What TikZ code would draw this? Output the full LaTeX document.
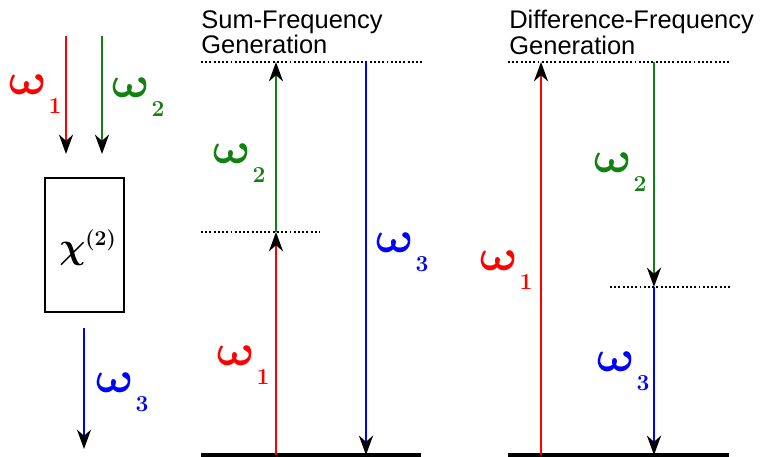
\documentclass[tikz,border=0pt]{standalone}
\usepackage{amsmath}
\usepackage[no-math]{fontspec}
\usepackage{tikz}
\usetikzlibrary{arrows.meta,positioning}
\newfontfamily\titlefont{Liberation Sans}
\DeclareMathSizes{25}{25}{14}{10}
\DeclareMathSizes{22}{22}{12}{9}
\definecolor{BeamRed}{HTML}{FF0000}
\definecolor{BeamGreen}{HTML}{138013}
\definecolor{BeamBlue}{HTML}{0000FF}
% omega with its index: name, position, colour, index
\newcommand{\freq}[4]{%
  \node[omega, #3] (#1) at #2 {$\omega$};
  \node[index, #3, below right=1.5pt and -1.5pt of #1] (#1i) {#4};}

\begin{document}
\begin{tikzpicture}[
  x=0.02cm, y=-0.02cm,
  beam/.style={line width=1.4pt, -{Stealth[length=11pt, width=8pt, inset=3.5pt, black]}},
  level/.style={line width=1.9pt},
  virtual/.style={line width=1.3pt, dash pattern=on 1.1pt off 1.3pt},
  omega/.style={font=\fontsize{25}{28}\selectfont\boldmath, inner sep=0pt, xscale=1.2, xslant=-0.22, transform shape},
  index/.style={font=\fontsize{13}{14}\selectfont\bfseries, inner sep=0pt},
  title/.style={font=\titlefont\fontsize{14.5}{13}\selectfont, align=left, anchor=north west, inner sep=0pt}
]
  \useasboundingbox (0,0) rectangle (762,457);

  % crystal with the three beams
  \node[draw, line width=1.3pt, minimum width=79*0.02cm, minimum height=134*0.02cm, inner sep=0pt] (crystal) at (84.5,245) {};
  \node[font=\fontsize{22}{26}\selectfont\boldmath, inner sep=0pt] (chi) at (88,248) {$\chi^{\mathbf{(2)}}$};
  \coordinate (in1) at (66,36);   \coordinate (in1end) at (66,154);
  \coordinate (in2) at (102,36);  \coordinate (in2end) at (102,154);
  \coordinate (out3) at (84,328); \coordinate (out3end) at (84,449);
  \draw[beam, BeamRed] (in1) -- (in1end);
  \draw[beam, BeamGreen] (in2) -- (in2end);
  \draw[beam, BeamBlue] (out3) -- (out3end);
  \freq{w1a}{(28,85)}{BeamRed}{1}
  \freq{w2a}{(131,88)}{BeamGreen}{2}
  \freq{w3a}{(115,383)}{BeamBlue}{3}

  % sum-frequency generation
  \node[title] (sfgtitle) at (201,10) {Sum-Frequency\\Generation};
  \coordinate (sfgtopL) at (201,62);  \coordinate (sfgtopR) at (424,62);
  \coordinate (sfgmidL) at (201,232); \coordinate (sfgmidR) at (320,232);
  \coordinate (sfggndL) at (201,455); \coordinate (sfggndR) at (421,455);
  \draw[virtual] (sfgtopL) -- (sfgtopR);
  \draw[virtual] (sfgmidL) -- (sfgmidR);
  \draw[level] (sfggndL) -- (sfggndR);
  \coordinate (sfgr0) at (276,455); \coordinate (sfgr1) at (276,232); \coordinate (sfgr2) at (276,62);
  \coordinate (sfgb0) at (366,62);  \coordinate (sfgb1) at (366,455);
  \draw[beam, BeamRed] (sfgr0) -- (sfgr1);
  \draw[beam, BeamGreen] (sfgr1) -- (sfgr2);
  \draw[beam, BeamBlue] (sfgb0) -- (sfgb1);
  \freq{w2b}{(232,154)}{BeamGreen}{2}
  \freq{w1b}{(236,356)}{BeamRed}{1}
  \freq{w3b}{(395,243)}{BeamBlue}{3}

  % difference-frequency generation
  \node[title] (dfgtitle) at (509,10) {Difference-Frequency\\Generation};
  \coordinate (dfgtopL) at (508,62);  \coordinate (dfgtopR) at (730,62);
  \coordinate (dfgmidL) at (610,287); \coordinate (dfgmidR) at (730,287);
  \coordinate (dfggndL) at (508,455); \coordinate (dfggndR) at (729,455);
  \draw[virtual] (dfgtopL) -- (dfgtopR);
  \draw[virtual] (dfgmidL) -- (dfgmidR);
  \draw[level] (dfggndL) -- (dfggndR);
  \coordinate (dfgr0) at (541,455); \coordinate (dfgr1) at (541,62);
  \coordinate (dfgg0) at (654,62);  \coordinate (dfgg1) at (654,287); \coordinate (dfgg2) at (654,455);
  \draw[beam, BeamRed] (dfgr0) -- (dfgr1);
  \draw[beam, BeamGreen] (dfgg0) -- (dfgg1);
  \draw[beam, BeamBlue] (dfgg1) -- (dfgg2);
  \freq{w1c}{(499,261)}{BeamRed}{1}
  \freq{w2c}{(613,163)}{BeamGreen}{2}
  \freq{w3c}{(616,362)}{BeamBlue}{3}
\end{tikzpicture}
\end{document}
